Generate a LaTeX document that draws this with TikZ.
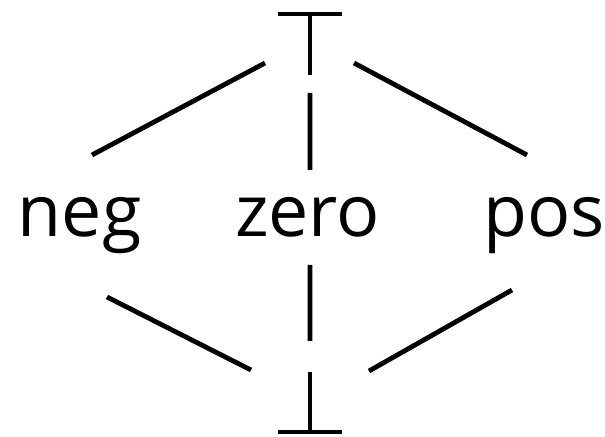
\documentclass[tikz,border=0pt]{standalone}
\usepackage{fontspec}
\setmainfont{Open Sans}
\begin{document}
\begin{tikzpicture}[x=1bp,y=1bp,
  lbl/.style={anchor=base,inner sep=0pt,font=\fontsize{72}{80}\selectfont},
  glyphbox/.style={draw=none,inner sep=0pt,minimum width=64bp},
  glyphline/.style={line width=4bp},
  edge/.style={line width=4.8bp}]
\useasboundingbox (0,0) rectangle (605,437);
\node[lbl] (neg) at (79.5,200) {neg};
\node[lbl] (zero) at (307.5,200) {zero};
\node[lbl] (pos) at (544,200) {pos};
\node[glyphbox,minimum height=61bp] (top) at (310,392.5) {};
\node[glyphbox,minimum height=60bp] (bot) at (310,35) {};
% top symbol
\draw[glyphline] (top.north west) -- (top.north east);
\draw[glyphline] (top.north) -- (top.south);
% bottom symbol
\draw[glyphline] (bot.south west) -- (bot.south east);
\draw[glyphline] (bot.south) -- (bot.north);
% connectors
\draw[edge] ([xshift=-45bp,yshift=-18.5bp]top.center) -- ([xshift=12.5bp,yshift=82bp]neg.base);
\draw[edge] ([xshift=44bp,yshift=-18.5bp]top.center) -- ([xshift=-17bp,yshift=82bp]pos.base);
\draw[edge] ([yshift=-48.5bp]top.center) -- ([xshift=2.5bp,yshift=67bp]zero.base);
\draw[edge] ([xshift=2.5bp,yshift=-28bp]zero.base) -- ([yshift=61bp]bot.center);
\draw[edge] ([xshift=27.5bp,yshift=-60bp]neg.base) -- ([xshift=-59bp,yshift=32bp]bot.center);
\draw[edge] ([xshift=-32bp,yshift=-53bp]pos.base) -- ([xshift=59bp,yshift=31bp]bot.center);
\end{tikzpicture}
\end{document}
